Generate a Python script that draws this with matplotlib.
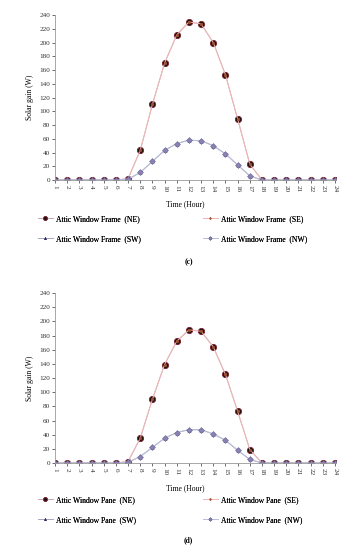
import matplotlib.pyplot as plt

plt.rcParams['font.family'] = ['Liberation Serif', 'DejaVu Serif']

hours = list(range(1, 25))

# (c) attic window frame
frame_ne = [0, 0, 0, 0, 0, 0, 2, 43, 110, 170, 211, 230, 227, 200, 153, 89, 23, 0, 0, 0, 0, 0, 0, 0]
frame_se = [0, 0, 0, 0, 0, 0, 2, 43, 110, 170, 211, 230, 227, 200, 153, 89, 23, 0, 0, 0, 0, 0, 0, 0]
frame_sw = [0, 0, 0, 0, 0, 0, 1, 11, 27, 43, 53, 58, 57, 50, 38, 22, 6, 0, 0, 0, 0, 0, 0, 0]
frame_nw = [0, 0, 0, 0, 0, 0, 1, 11, 27, 43, 53, 58, 57, 50, 38, 22, 6, 0, 0, 0, 0, 0, 0, 0]

# (d) attic window pane
pane_ne = [0, 0, 0, 0, 0, 0, 2, 35, 90, 139, 172, 188, 186, 164, 125, 73, 19, 0, 0, 0, 0, 0, 0, 0]
pane_se = [0, 0, 0, 0, 0, 0, 2, 35, 90, 139, 172, 188, 186, 164, 125, 73, 19, 0, 0, 0, 0, 0, 0, 0]
pane_sw = [0, 0, 0, 0, 0, 0, 1, 9, 22, 35, 43, 47, 47, 41, 32, 18, 5, 0, 0, 0, 0, 0, 0, 0]
pane_nw = [0, 0, 0, 0, 0, 0, 1, 9, 22, 35, 43, 47, 47, 41, 32, 18, 5, 0, 0, 0, 0, 0, 0, 0]

styles = {
    "NE": dict(color="#c9a7b0", marker="o", ms=4.5, mfc="#1e1010", mec="#7a2030", mew=0.6),
    "SE": dict(color="#f0b8b8", marker="o", ms=2.0, mfc="#a0522d", mec="#a0522d", mew=0.3),
    "SW": dict(color="#a8a8c0", marker="^", ms=2.5, mfc="#1c1c5c", mec="#1c1c5c", mew=0.3),
    "NW": dict(color="#b8c0dc", marker="D", ms=3.0, mfc="#8a82b4", mec="#6a6290", mew=0.4),
}

fig = plt.figure(figsize=(3.56, 5.5), dpi=100)


def panel(rect, series, name, tag, leg_y, tag_y, xl_y):
    ax = fig.add_axes(rect)
    for key, vals in series:
        ax.plot(hours, vals, lw=0.7, label=f"{name}  ({key})", **styles[key])
    ax.set_xlim(1, 24.1)
    ax.set_ylim(0, 240)
    ax.set_yticks(range(0, 241, 20))
    ax.set_xticks(hours)
    ax.set_xticklabels([str(h) for h in hours], rotation=-90)
    ax.tick_params(labelsize=5.2, length=2, width=0.5, pad=1.5, colors="#333333")
    for s in ["top", "right"]:
        ax.spines[s].set_visible(False)
    for s in ["left", "bottom"]:
        ax.spines[s].set_color("#999999")
        ax.spines[s].set_linewidth(0.6)
    ax.set_ylabel("Solar gain (W)", fontsize=5.5, labelpad=4)
    fig.text(0.52, xl_y, "Time (Hour)", ha="center", va="center", fontsize=5.5)
    h, l = ax.get_legend_handles_labels()
    # two columns placed separately so both panels line up
    for idx, x0 in [((0, 2), 38 / 356), ((1, 3), 203 / 356)]:
        leg = fig.legend([h[i] for i in idx], [l[i] for i in idx],
                         loc="center left", bbox_to_anchor=(x0, leg_y),
                         frameon=False, fontsize=5.5, handlelength=1.9,
                         labelspacing=1.6, handletextpad=0.5, markerscale=0.6,
                         borderaxespad=0, borderpad=0)
        fig.add_artist(leg)
    fig.text(0.53, tag_y, tag, ha="center", va="center", fontsize=5.5, fontweight="bold")
    return ax


panel([0.1545, 0.6727, 0.79, 0.30],
      [("NE", frame_ne), ("SE", frame_se), ("SW", frame_sw), ("NW", frame_nw)],
      "Attic Window Frame", "(c)", 1 - 229 / 550, 1 - 262 / 550, 1 - 204 / 550)

panel([0.1545, 0.1582, 0.79, 0.309],
      [("NE", pane_ne), ("SE", pane_se), ("SW", pane_sw), ("NW", pane_nw)],
      "Attic Window Pane", "(d)", 1 - 510 / 550, 1 - 540 / 550, 1 - 488 / 550)

fig.savefig("out.png", dpi=100)
